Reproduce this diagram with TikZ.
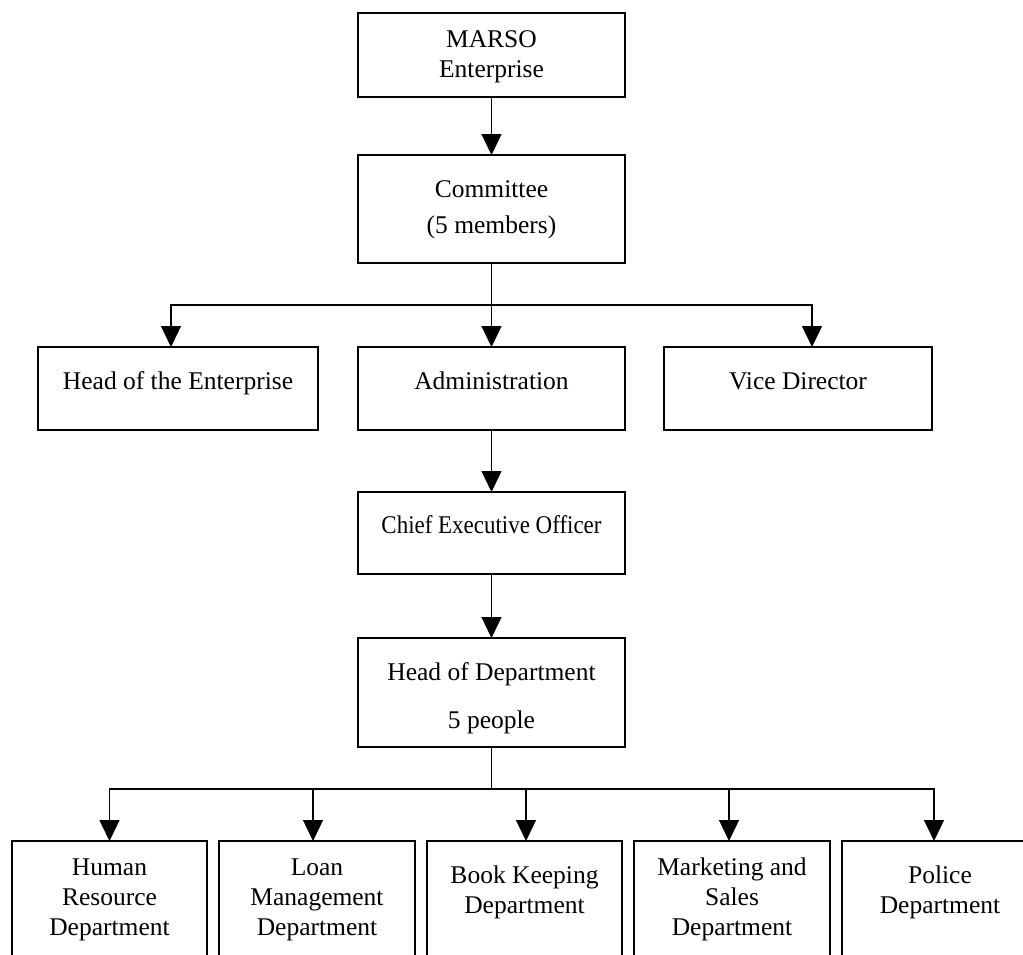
\documentclass[tikz,border=0pt]{standalone}
\usepackage{fontspec}
\setmainfont{Liberation Serif}
\newfontfamily\condserif[FakeStretch=0.9]{Liberation Serif}
\usetikzlibrary{arrows.meta}
\tikzset{
  box/.style={draw, line width=1.3pt, rectangle, inner sep=0pt, outer sep=0pt},
  txt/.style={anchor=base, inner sep=0pt, align=center, font=\fontsize{25.5}{30}\selectfont},
  arr/.style={line width=1.3pt, -{Triangle[width=20pt,length=21pt]}},
  ln/.style={line width=1.3pt}
}
\begin{document}
\begin{tikzpicture}[x=1pt,y=-1pt]
\clip (0,0) rectangle (1023,954);
\fill[white] (0,0) rectangle (1023,954);
% top boxes
\node[box, minimum width=267pt, minimum height=84pt] (marso) at (491.5,55) {};
\node[box, minimum width=267pt, minimum height=108pt] (comm) at (491.5,209) {};
\node[box, minimum width=280pt, minimum height=83pt] (hoe) at (178,388.5) {};
\node[box, minimum width=267pt, minimum height=83pt] (admin) at (491.5,388.5) {};
\node[box, minimum width=268pt, minimum height=83pt] (vice) at (798,388.5) {};
\node[box, minimum width=267pt, minimum height=82pt] (ceo) at (491.5,533) {};
\node[box, minimum width=267pt, minimum height=109pt] (hod) at (491.5,692.5) {};
% bottom boxes
\node[box, minimum width=195pt, minimum height=130pt] (hr) at (109.5,906) {};
\node[box, minimum width=196pt, minimum height=130pt] (loan) at (317,906) {};
\node[box, minimum width=195pt, minimum height=130pt] (book) at (524.5,906) {};
\node[box, minimum width=196pt, minimum height=130pt] (mkt) at (732,906) {};
\node[box, minimum width=196pt, minimum height=130pt] (pol) at (940,906) {};
% texts (base anchor = baseline of last line)
\node[txt] (tmarso) at (491.5,77) {MARSO\\Enterprise};
\node[txt] (tcomm) at (491.5,233) {Committee\\[6pt](5 members)};
\node[txt] (thoe) at (178,389) {Head of the Enterprise};
\node[txt] (tadmin) at (491.5,389) {Administration};
\node[txt] (tvice) at (798,389) {Vice Director};
\node[txt, font=\condserif\fontsize{25.5}{30}\selectfont] (tceo) at (491.5,533) {Chief Executive Officer};
\node[txt] (thod) at (491.5,728) {Head of Department\\[18pt]5 people};
\node[txt] (thr) at (109.5,935) {Human\\Resource\\Department};
\node[txt] (tloan) at (317,935) {Loan\\Management\\Department};
\node[txt] (tbook) at (524.5,913) {Book Keeping\\Department};
\node[txt] (tmkt) at (732,935) {Marketing and\\Sales\\Department};
\node[txt] (tpol) at (940,913) {Police\\Department};
% connectors
\draw[arr] (marso) -- (comm);
\coordinate (bus1) at (491.5,305);
\draw[ln] (comm.south) -- (bus1);
\draw[arr] (bus1) -| ([xshift=-7pt]hoe.north);
\draw[arr] (bus1) -- (admin.north);
\draw[arr] (bus1) -| ([xshift=14pt]vice.north);
\draw[arr] (admin) -- (ceo);
\draw[arr] (ceo) -- (hod);
\coordinate (bus2) at (491.5,789);
\draw[ln] (hod.south) -- (bus2);
\draw[arr] (bus2) -| (hr.north);
\draw[arr] ([xshift=-4pt]loan.north |- bus2) -- ([xshift=-4pt]loan.north);
\draw[arr] ([xshift=1.5pt]book.north |- bus2) -- ([xshift=1.5pt]book.north);
\draw[arr] ([xshift=-3pt]mkt.north |- bus2) -- ([xshift=-3pt]mkt.north);
\draw[arr] (bus2) -| ([xshift=-6pt]pol.north);
\end{tikzpicture}
\end{document}
